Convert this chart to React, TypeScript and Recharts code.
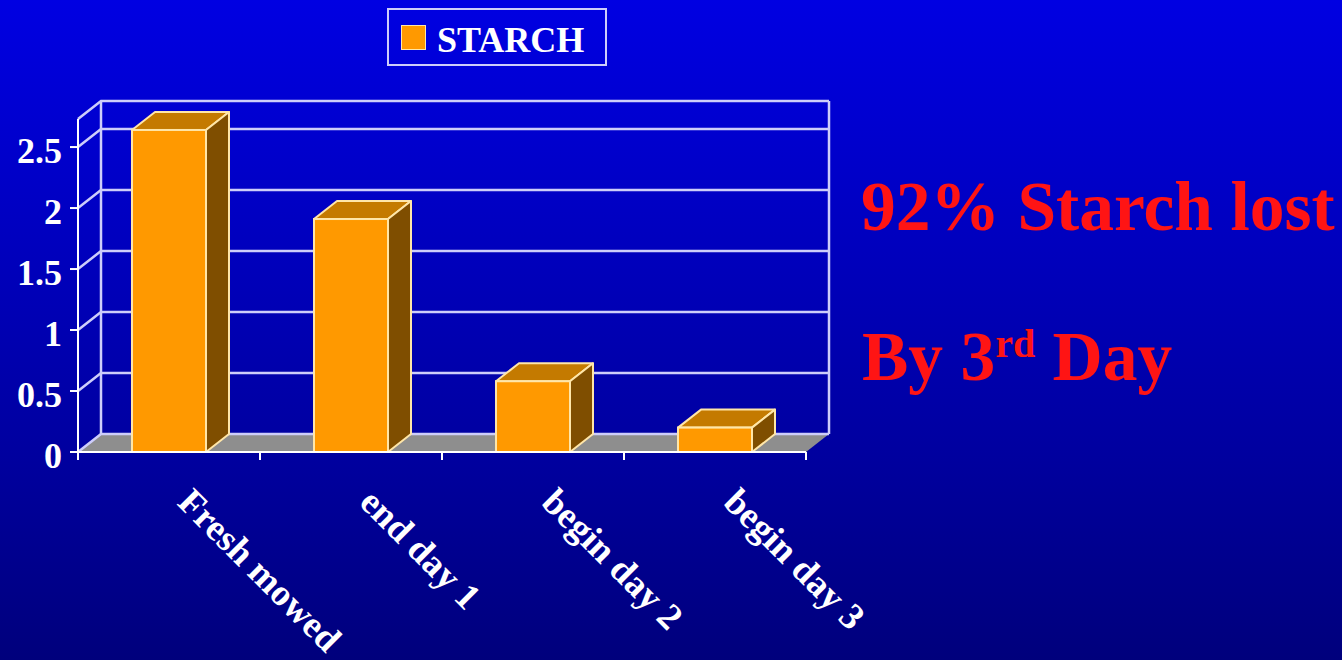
import React from 'react';
import { BarChart, Bar, XAxis, YAxis, CartesianGrid, Legend } from 'recharts';

const categories = ['Fresh mowed', 'end day 1', 'begin day 2', 'begin day 3'];
const starch = [2.64, 1.91, 0.58, 0.2];
const yTicks = [0, 0.5, 1, 1.5, 2, 2.5];
const yMax = 2.73;
const seriesName = 'STARCH';
const noteLine1 = '92% Starch lost';
const noteLine2a = 'By 3';
const noteLine2sup = 'rd';
const noteLine2b = ' Day';

const data = categories.map((c, i) => ({ name: c, [seriesName]: starch[i] }));

const DX = 23;
const DY = 18;
const FONT = "'Liberation Serif', 'Times New Roman', serif";
const GRID = '#CDCDFA';
const EDGE = '#FFE6A8';

function GridLine(props: any) {
  const { x1, x2, y1, y, height } = props;
  const bottom = y + height;
  const k = props.key ?? `g-${y1}`;
  if (Math.abs(y1 - bottom) < 0.5) {
    return (
      <g key={k}>
        <polygon
          points={`${x1},${y1} ${x1 + DX},${y1 - DY} ${x2 + DX},${y1 - DY} ${x2},${y1}`}
          fill="#8E8E8E"
        />
        <polyline
          points={`${x1},${y1} ${x1 + DX},${y1 - DY} ${x2 + DX},${y1 - DY}`}
          fill="none"
          stroke={GRID}
          strokeWidth={2.5}
        />
      </g>
    );
  }
  if (Math.abs(y1 - y) < 0.5) {
    return (
      <g key={k}>
        <polyline
          points={`${x1},${y1} ${x1 + DX},${y1 - DY} ${x2 + DX},${y1 - DY}`}
          fill="none"
          stroke={GRID}
          strokeWidth={2.5}
        />
        <line x1={x1 + DX} y1={y1 - DY} x2={x1 + DX} y2={bottom - DY} stroke={GRID} strokeWidth={2.5} />
        <line x1={x2 + DX} y1={y1 - DY} x2={x2 + DX} y2={bottom - DY} stroke={GRID} strokeWidth={2.5} />
      </g>
    );
  }
  return (
    <polyline
      key={k}
      points={`${x1},${y1} ${x1 + DX},${y1 - DY} ${x2 + DX},${y1 - DY}`}
      fill="none"
      stroke={GRID}
      strokeWidth={2.5}
    />
  );
}

function Box3D(props: any) {
  const { x, y, width, height } = props;
  if (!height || height <= 0) return null;
  const w = width;
  const top = `${x},${y} ${x + DX},${y - DY} ${x + w + DX},${y - DY} ${x + w},${y}`;
  const side = `${x + w},${y} ${x + w + DX},${y - DY} ${x + w + DX},${y + height - DY} ${x + w},${y + height}`;
  return (
    <g>
      <polygon points={top} fill="#C47A00" stroke={EDGE} strokeWidth={2} strokeLinejoin="round" />
      <polygon points={side} fill="#7F4E00" stroke={EDGE} strokeWidth={2} strokeLinejoin="round" />
      <rect x={x} y={y} width={w} height={height} fill="#FF9900" stroke={EDGE} strokeWidth={2} />
    </g>
  );
}

function YTick(props: any) {
  const { x, y, payload } = props;
  return (
    <text
      x={x}
      y={y}
      dy={16}
      textAnchor="end"
      fill="#FFFFFF"
      fontSize={36}
      fontWeight="bold"
      fontFamily={FONT}
    >
      {payload.value}
    </text>
  );
}

function XTick(props: any) {
  const { x, y, payload, index, visibleTicksCount } = props;
  const half = payload && payload.offset ? payload.offset : 91;
  const last = index === (visibleTicksCount ?? categories.length) - 1;
  return (
    <g>
      <line x1={x - half} y1={y} x2={x - half} y2={y + 8} stroke="#FFFFFF" strokeWidth={2} />
      {last ? <line x1={x + half} y1={y} x2={x + half} y2={y + 8} stroke="#FFFFFF" strokeWidth={2} /> : null}
      <text
        transform={`translate(${x + 7},${y + 52}) rotate(45)`}
        textAnchor="start"
        fill="#FFFFFF"
        fontSize={37}
        fontWeight="bold"
        fontFamily={FONT}
      >
        {payload.value}
      </text>
    </g>
  );
}

function LegendBox() {
  return (
    <div
      style={{
        boxSizing: 'border-box',
        width: 220,
        height: 58,
        border: `2px solid ${GRID}`,
        display: 'flex',
        alignItems: 'center',
        paddingLeft: 12,
      }}
    >
      <div
        style={{
          width: 25,
          height: 25,
          background: '#FF9900',
          border: `1px solid ${EDGE}`,
          boxSizing: 'border-box',
        }}
      />
      <span
        style={{
          marginLeft: 11,
          color: '#FFFFFF',
          fontSize: 36,
          fontWeight: 'bold',
          fontFamily: FONT,
          lineHeight: '36px',
          marginTop: 6,
        }}
      >
        {seriesName}
      </span>
    </div>
  );
}

export default function App() {
  return (
    <div
      style={{
        position: 'fixed',
        left: 0,
        top: 0,
        width: 1342,
        height: 660,
        overflow: 'hidden',
        background: 'linear-gradient(to bottom, #0000E2 0%, #0000C0 35%, #00009E 70%, #00007C 100%)',
      }}
    >
      <BarChart
        width={1342}
        height={660}
        data={data}
        margin={{ top: 119, right: 536, bottom: 178, left: 0 }}
      >
        <CartesianGrid
          vertical={false}
          horizontal={GridLine as any}
          horizontalValues={[...yTicks, yMax]}
          fill="none"
        />
        <Bar
          dataKey={seriesName}
          barSize={74}
          isAnimationActive={false}
          shape={Box3D as any}
        />
        <XAxis
          dataKey="name"
          interval={0}
          height={30}
          tickSize={0}
          tickMargin={0}
          tickLine={false}
          axisLine={{ stroke: '#FFFFFF', strokeWidth: 2 }}
          tick={XTick as any}
        />
        <YAxis
          domain={[0, yMax]}
          ticks={yTicks}
          interval={0}
          width={78}
          tickSize={8}
          tickMargin={8}
          axisLine={{ stroke: '#FFFFFF', strokeWidth: 2 }}
          tickLine={{ stroke: '#FFFFFF', strokeWidth: 2 }}
          tick={YTick as any}
        />
        <Legend
          layout="horizontal"
          verticalAlign="middle"
          align="center"
          wrapperStyle={{ left: 387, top: 8, width: 220, height: 58 }}
          content={LegendBox as any}
        />
      </BarChart>
      <div
        style={{
          position: 'absolute',
          left: 861,
          top: 173,
          color: '#FF1414',
          fontSize: 69.5,
          fontWeight: 'bold',
          fontFamily: FONT,
          lineHeight: '68px',
          whiteSpace: 'nowrap',
        }}
      >
        {noteLine1}
      </div>
      <div
        style={{
          position: 'absolute',
          left: 862,
          top: 323,
          color: '#FF1414',
          fontSize: 69.5,
          fontWeight: 'bold',
          fontFamily: FONT,
          lineHeight: '68px',
          whiteSpace: 'nowrap',
        }}
      >
        {noteLine2a}
        <span style={{ fontSize: 40, position: 'relative', top: -23 }}>{noteLine2sup}</span>
        {noteLine2b}
      </div>
    </div>
  );
}
